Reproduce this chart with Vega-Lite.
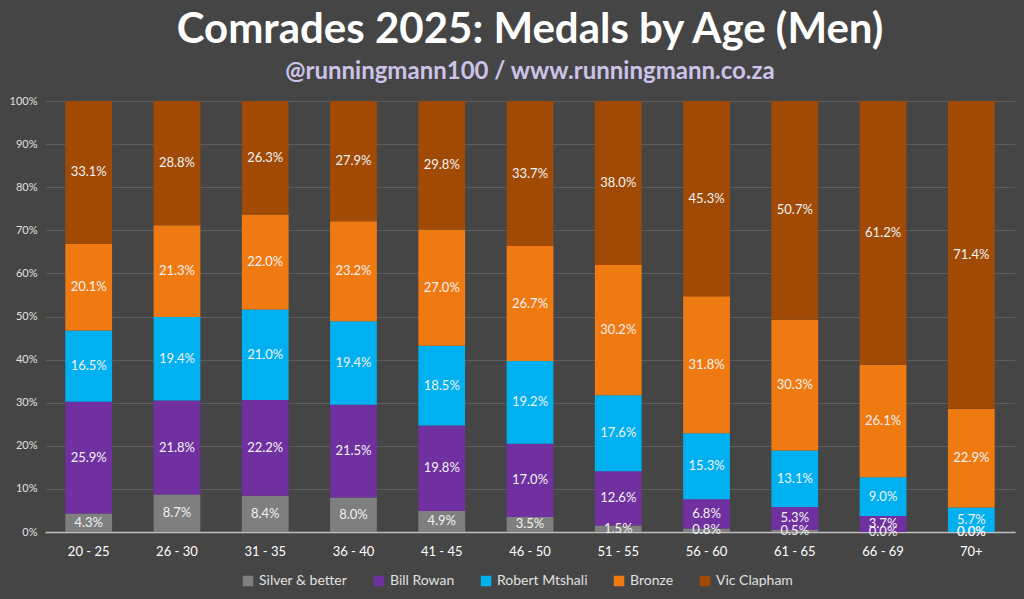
{
  "$schema": "https://vega.github.io/schema/vega-lite/v6.json",
  "width": 970,
  "height": 431,
  "autosize": {"type": "pad"},
  "padding": {"left": 9, "right": 9, "top": 9, "bottom": 40},
  "background": "#454545",
  "title": {
    "text": "Comrades 2025: Medals by Age (Men)",
    "subtitle": "@runningmann100 / www.runningmann.co.za",
    "anchor": "middle",
    "font": "Lato",
    "fontSize": 42,
    "fontWeight": "bold",
    "color": "#ffffff",
    "subtitleFont": "Lato",
    "subtitleFontSize": 24,
    "subtitleFontWeight": "bold",
    "subtitleColor": "#cdc3e8",
    "subtitlePadding": 8,
    "offset": 10
  },
  "data": {
    "values": [
      {"age": "20 - 25", "medal": "Silver & better", "o": 1, "pct": 4.3},
      {"age": "20 - 25", "medal": "Bill Rowan", "o": 2, "pct": 25.9},
      {"age": "20 - 25", "medal": "Robert Mtshali", "o": 3, "pct": 16.5},
      {"age": "20 - 25", "medal": "Bronze", "o": 4, "pct": 20.1},
      {"age": "20 - 25", "medal": "Vic Clapham", "o": 5, "pct": 33.1},
      {"age": "26 - 30", "medal": "Silver & better", "o": 1, "pct": 8.7},
      {"age": "26 - 30", "medal": "Bill Rowan", "o": 2, "pct": 21.8},
      {"age": "26 - 30", "medal": "Robert Mtshali", "o": 3, "pct": 19.4},
      {"age": "26 - 30", "medal": "Bronze", "o": 4, "pct": 21.3},
      {"age": "26 - 30", "medal": "Vic Clapham", "o": 5, "pct": 28.8},
      {"age": "31 - 35", "medal": "Silver & better", "o": 1, "pct": 8.4},
      {"age": "31 - 35", "medal": "Bill Rowan", "o": 2, "pct": 22.2},
      {"age": "31 - 35", "medal": "Robert Mtshali", "o": 3, "pct": 21.0},
      {"age": "31 - 35", "medal": "Bronze", "o": 4, "pct": 22.0},
      {"age": "31 - 35", "medal": "Vic Clapham", "o": 5, "pct": 26.3},
      {"age": "36 - 40", "medal": "Silver & better", "o": 1, "pct": 8.0},
      {"age": "36 - 40", "medal": "Bill Rowan", "o": 2, "pct": 21.5},
      {"age": "36 - 40", "medal": "Robert Mtshali", "o": 3, "pct": 19.4},
      {"age": "36 - 40", "medal": "Bronze", "o": 4, "pct": 23.2},
      {"age": "36 - 40", "medal": "Vic Clapham", "o": 5, "pct": 27.9},
      {"age": "41 - 45", "medal": "Silver & better", "o": 1, "pct": 4.9},
      {"age": "41 - 45", "medal": "Bill Rowan", "o": 2, "pct": 19.8},
      {"age": "41 - 45", "medal": "Robert Mtshali", "o": 3, "pct": 18.5},
      {"age": "41 - 45", "medal": "Bronze", "o": 4, "pct": 27.0},
      {"age": "41 - 45", "medal": "Vic Clapham", "o": 5, "pct": 29.8},
      {"age": "46 - 50", "medal": "Silver & better", "o": 1, "pct": 3.5},
      {"age": "46 - 50", "medal": "Bill Rowan", "o": 2, "pct": 17.0},
      {"age": "46 - 50", "medal": "Robert Mtshali", "o": 3, "pct": 19.2},
      {"age": "46 - 50", "medal": "Bronze", "o": 4, "pct": 26.7},
      {"age": "46 - 50", "medal": "Vic Clapham", "o": 5, "pct": 33.7},
      {"age": "51 - 55", "medal": "Silver & better", "o": 1, "pct": 1.5},
      {"age": "51 - 55", "medal": "Bill Rowan", "o": 2, "pct": 12.6},
      {"age": "51 - 55", "medal": "Robert Mtshali", "o": 3, "pct": 17.6},
      {"age": "51 - 55", "medal": "Bronze", "o": 4, "pct": 30.2},
      {"age": "51 - 55", "medal": "Vic Clapham", "o": 5, "pct": 38.0},
      {"age": "56 - 60", "medal": "Silver & better", "o": 1, "pct": 0.8},
      {"age": "56 - 60", "medal": "Bill Rowan", "o": 2, "pct": 6.8},
      {"age": "56 - 60", "medal": "Robert Mtshali", "o": 3, "pct": 15.3},
      {"age": "56 - 60", "medal": "Bronze", "o": 4, "pct": 31.8},
      {"age": "56 - 60", "medal": "Vic Clapham", "o": 5, "pct": 45.3},
      {"age": "61 - 65", "medal": "Silver & better", "o": 1, "pct": 0.5},
      {"age": "61 - 65", "medal": "Bill Rowan", "o": 2, "pct": 5.3},
      {"age": "61 - 65", "medal": "Robert Mtshali", "o": 3, "pct": 13.1},
      {"age": "61 - 65", "medal": "Bronze", "o": 4, "pct": 30.3},
      {"age": "61 - 65", "medal": "Vic Clapham", "o": 5, "pct": 50.7},
      {"age": "66 - 69", "medal": "Silver & better", "o": 1, "pct": 0.0},
      {"age": "66 - 69", "medal": "Bill Rowan", "o": 2, "pct": 3.7},
      {"age": "66 - 69", "medal": "Robert Mtshali", "o": 3, "pct": 9.0},
      {"age": "66 - 69", "medal": "Bronze", "o": 4, "pct": 26.1},
      {"age": "66 - 69", "medal": "Vic Clapham", "o": 5, "pct": 61.2},
      {"age": "70+", "medal": "Silver & better", "o": 1, "pct": 0.0},
      {"age": "70+", "medal": "Bill Rowan", "o": 2, "pct": 0.0},
      {"age": "70+", "medal": "Robert Mtshali", "o": 3, "pct": 5.7},
      {"age": "70+", "medal": "Bronze", "o": 4, "pct": 22.9},
      {"age": "70+", "medal": "Vic Clapham", "o": 5, "pct": 71.4}
    ]
  },
  "transform": [
    {"stack": "pct", "groupby": ["age"], "sort": [{"field": "o", "order": "ascending"}], "offset": "normalize", "as": ["y0", "y1"]},
    {"calculate": "(datum.y0 + datum.y1) / 2", "as": "ymid"},
    {"calculate": "format(datum.pct, '.1f') + '%'", "as": "label"}
  ],
  "encoding": {
    "x": {
      "field": "age",
      "type": "nominal",
      "sort": null,
      "title": null,
      "scale": {"paddingInner": 0.47, "paddingOuter": 0.23},
      "axis": {"labelAngle": 0, "labelColor": "#ffffff", "labelFontSize": 13, "labelFont": "Lato", "labelPadding": 13, "ticks": false, "domainColor": "#bfbfbf", "domainWidth": 1.5}
    }
  },
  "layer": [
    {
      "mark": {"type": "bar"},
      "encoding": {
        "y": {
          "field": "y0",
          "type": "quantitative",
          "scale": {"domain": [0, 1]},
          "title": null,
          "axis": {"format": ".0%", "values": [0, 0.1, 0.2, 0.3, 0.4, 0.5, 0.6, 0.7, 0.8, 0.9, 1], "labelOverlap": false, "labelColor": "#e0e0e0", "labelFontSize": 11, "labelFont": "Lato", "ticks": false, "domain": false, "gridColor": "#5e5e5e", "gridWidth": 1, "labelPadding": 8}
        },
        "y2": {"field": "y1"},
        "color": {
          "field": "medal",
          "type": "nominal",
          "sort": ["Silver & better", "Bill Rowan", "Robert Mtshali", "Bronze", "Vic Clapham"],
          "scale": {
            "domain": ["Silver & better", "Bill Rowan", "Robert Mtshali", "Bronze", "Vic Clapham"],
            "range": ["#7f7f7f", "#7030a0", "#00b0f0", "#f07a12", "#a04a06"]
          },
          "legend": {
            "orient": "none",
            "legendX": 196,
            "legendY": 473,
            "direction": "horizontal",
            "title": null,
            "symbolType": "square",
            "symbolSize": 110,
            "labelColor": "#e0e0e0",
            "labelFontSize": 14,
            "labelFont": "Lato",
            "columnPadding": 24
          }
        }
      }
    },
    {
      "mark": {"type": "text", "color": "#f2f2f2", "font": "Lato", "fontSize": 13, "baseline": "middle"},
      "encoding": {
        "y": {"field": "ymid", "type": "quantitative"},
        "text": {"field": "label", "type": "nominal"}
      }
    }
  ],
  "config": {"view": {"stroke": null}}
}
